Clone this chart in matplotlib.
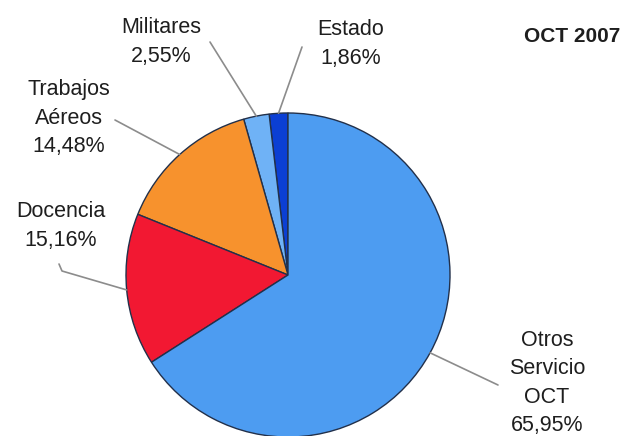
import matplotlib.pyplot as plt
import numpy as np

W, H = 626, 436

# slice data, drawn counter-clockwise from 12 o'clock
categories = ['Estado', 'Militares', 'Trabajos\nAéreos', 'Docencia', 'Otros\nServicio\nOCT']
values = [1.86, 2.55, 14.48, 15.16, 65.95]
colors = ['#0b3fd4', '#6fb2f6', '#f7922d', '#f21832', '#4d9cf1']

# label block centres and leader-line start points (pixel coords, y down)
label_pos = [(351, 44), (161, 42), (69, 118), (61, 226), (547, 383)]
leader_start = [[(302, 47)], [(210, 42)], [(115, 120)], [(59, 264), (62, 271)], [(498, 385)]]

CENTER = (288, 275)
RADIUS = 162


def fmt(v):
    return f'{v:.2f}'.replace('.', ',') + '%'


fig = plt.figure(figsize=(W / 100, H / 100), dpi=100)
ax = fig.add_axes([0, 0, 1, 1])

# y axis is flipped, so clockwise in data = counter-clockwise on screen
wedges, _ = ax.pie(values, colors=colors, startangle=-90, counterclock=False,
                   center=CENTER, radius=RADIUS, frame=True,
                   wedgeprops=dict(edgecolor='#22304a', linewidth=1.0))
ax.set_xlim(0, W)
ax.set_ylim(H, 0)
ax.set_aspect('equal')
ax.axis('off')

txt = dict(family='Liberation Sans', fontsize=15.5, color='#1e1e1e',
           ha='center', va='center', linespacing=1.45)

for w, cat, v, pos, start in zip(wedges, categories, values, label_pos, leader_start):
    mid = np.deg2rad((w.theta1 + w.theta2) / 2)
    edge = (CENTER[0] + RADIUS * np.cos(mid), CENTER[1] + RADIUS * np.sin(mid))
    pts = start + [edge]
    ax.plot([p[0] for p in pts], [p[1] for p in pts], color='#8c8c8c', lw=1.2,
            solid_capstyle='round')
    ax.text(pos[0], pos[1], cat + '\n' + fmt(v), **txt)

ax.text(572, 37, 'OCT 2007', family='Liberation Sans', fontsize=15,
        fontweight='bold', color='#1e1e1e', ha='center', va='center')

fig.savefig('out.png', dpi=100)
